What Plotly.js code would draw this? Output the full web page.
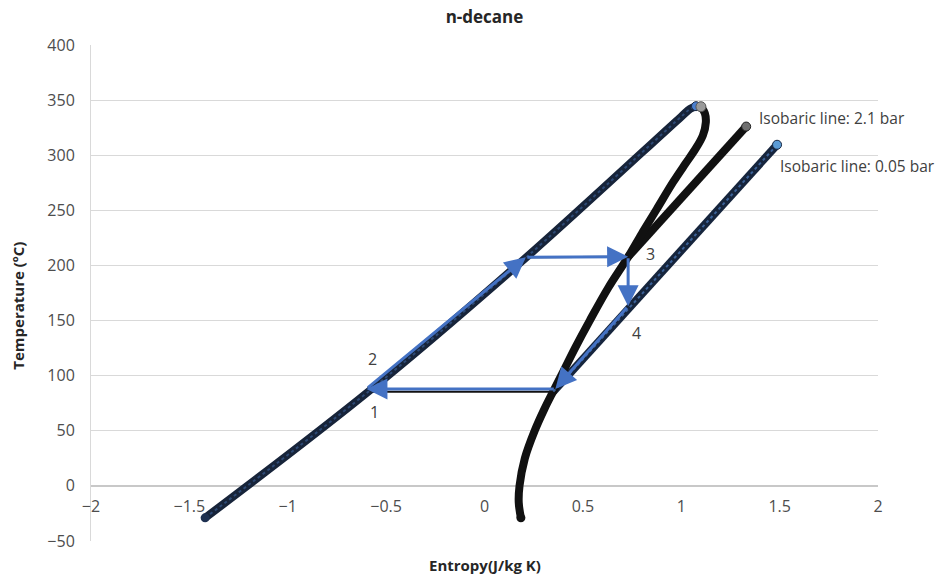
<!DOCTYPE html>
<html>
<head>
<meta charset="utf-8">
<script src="https://cdn.plot.ly/plotly-3.0.1.min.js"></script>
<style>html,body{margin:0;padding:0;background:#fff;}#chart{width:943px;height:578px;}</style>
</head>
<body>
<div id="chart"></div>
<script>
// Saturated liquid line (entropy, temperature)
var liqS = [-1.42, -0.58, 0.21, 1.0, 1.045, 1.075];
var liqT = [-29, 87, 207, 335, 342, 344.5];
// Saturated vapour line
var vapS = [1.10, 1.12, 1.125, 1.11, 1.07, 1.02, 0.96, 0.875, 0.80, 0.731, 0.63, 0.535, 0.46, 0.39, 0.35, 0.305, 0.255, 0.205, 0.178, 0.174, 0.185];
var vapT = [344, 338, 330, 318, 305, 292, 276, 251, 229, 208, 180, 150, 125, 100, 86, 70, 50, 25, 0, -15, -29];
// Isobar 2.1 bar
var iso21S = [0.214, 0.731, 1.03, 1.33];
var iso21T = [207.5, 208, 267, 326];
// Isobar 0.05 bar
var iso005S = [-0.58, 0.35, 0.92, 1.487];
var iso005T = [85.5, 85.5, 198, 309.5];
// Cycle states 1..4 and the vapour-line point on the 0.05 bar isobar
var cycleS = [-0.60, 0.21, 0.73, 0.73, 0.36];
var cycleT = [88, 207.5, 208, 163, 88];
var stateLabels = ['1', '2', '3', '4'];
var labelS = [-0.56, -0.57, 0.846, 0.77];
var labelT = [67, 115, 210.5, 139];
var isoNames = ['Isobaric line: 2.1 bar', 'Isobaric line: 0.05 bar'];
var isoLabelS = [1.385, 1.492];
var isoLabelT = [334, 290];

var FONT = 'Open Sans, Noto Sans, Liberation Sans, sans-serif';
var BLUE = '#4472C4';

function last(a){ return a[a.length-1]; }

var traces = [];
// horizontal dome parts (thin)
traces.push({x: iso005S.slice(0,2), y: iso005T.slice(0,2), mode:'lines', line:{color:'#111', width:2}, hoverinfo:'skip'});
traces.push({x: iso21S.slice(0,2), y: iso21T.slice(0,2), mode:'lines', line:{color:'#111', width:2}, hoverinfo:'skip'});
// thick lines
traces.push({x: iso005S.slice(1), y: iso005T.slice(1), mode:'lines', line:{color:'#16253d', width:8}, hoverinfo:'skip'});
traces.push({x: iso21S.slice(1), y: iso21T.slice(1), mode:'lines', line:{color:'#111', width:8}, hoverinfo:'skip'});
traces.push({x: vapS, y: vapT, mode:'lines', line:{color:'#111', width:8, shape:'spline', smoothing:1}, hoverinfo:'skip'});
traces.push({x: liqS, y: liqT, mode:'lines', line:{color:'#17243a', width:8, shape:'spline', smoothing:1}, hoverinfo:'skip'});
// texture overlays
traces.push({x: iso005S.slice(1), y: iso005T.slice(1), mode:'lines', line:{color:'#3c6298', width:2, dash:'dot'}, hoverinfo:'skip'});
traces.push({x: liqS, y: liqT, mode:'lines', line:{color:'#2e4a75', width:2, dash:'dot', shape:'spline', smoothing:1}, hoverinfo:'skip'});
// end markers
traces.push({x:[liqS[0], last(vapS)], y:[liqT[0], last(vapT)], mode:'markers', marker:{size:9, color:['#1d3050','#111'], line:{width:0}}, hoverinfo:'skip'});
traces.push({x:[last(liqS)], y:[last(liqT)], mode:'markers', marker:{size:9, color:'#4a7fd0', line:{color:'#1a2a45', width:1}}, hoverinfo:'skip'});
traces.push({x:[vapS[0]], y:[vapT[0]], mode:'markers', marker:{size:10, color:'#9a9a9a', line:{color:'#555', width:1}}, hoverinfo:'skip'});
traces.push({x:[last(iso21S)], y:[last(iso21T)], mode:'markers', marker:{size:9, color:'#6f6f6f', line:{color:'#222', width:1}}, hoverinfo:'skip'});
traces.push({x:[last(iso005S)], y:[last(iso005T)], mode:'markers', marker:{size:9, color:'#5b9bd5', line:{color:'#1a2a45', width:1}}, hoverinfo:'skip'});

var ann = [];
for (var i = 0; i < cycleS.length; i++) {
  var j = (i + 1) % cycleS.length;
  ann.push({x: cycleS[j], y: cycleT[j], ax: cycleS[i], ay: cycleT[i], xref:'x', yref:'y', axref:'x', ayref:'y',
    text:'', showarrow:true, arrowhead:2, arrowsize:1.4, arrowwidth:3, arrowcolor:BLUE, standoff:0, startstandoff:0});
}
for (var k = 0; k < stateLabels.length; k++) {
  ann.push({x: labelS[k], y: labelT[k], xref:'x', yref:'y', text: stateLabels[k], showarrow:false,
    font:{family:FONT, size:16, color:'#404040'}});
}
for (var m = 0; m < isoNames.length; m++) {
  ann.push({x: isoLabelS[m], y: isoLabelT[m], xref:'x', yref:'y', text: isoNames[m], showarrow:false, xanchor:'left',
    font:{family:FONT, size:15.5, color:'#404040'}});
}
// axis titles
ann.push({x:0.5, y:-0.048, xref:'paper', yref:'paper', yanchor:'middle', text:'<b>Entropy(J/kg K)</b>', showarrow:false,
  font:{family:FONT, size:15, color:'#262626'}});
ann.push({x:-0.093, y:0.474, xref:'paper', yref:'paper', xanchor:'center', yanchor:'middle', textangle:-90, text:'<b>Temperature (ºC)</b>', showarrow:false,
  font:{family:FONT, size:15, color:'#262626'}});

var layout = {
  width: 943, height: 578,
  margin: {l: 91, r: 65, t: 45, b: 37},
  paper_bgcolor: '#fff', plot_bgcolor: '#fff',
  showlegend: false,
  title: {text: '<b>n-decane</b>', x: 0.5, xref: 'paper', y: 1 - 17/578, yanchor: 'middle', font: {family: FONT, size: 17, color: '#262626'}},
  xaxis: {range: [-2, 2], dtick: 0.5, tick0: 0, showgrid: false, zeroline: false, showline: false,
    anchor: 'free', position: 50/450, ticks: '', ticklabelstandoff: 9,
    tickfont: {family: FONT, size: 16, color: '#4d4d4d'}},
  yaxis: {range: [-50, 400], dtick: 50, tick0: 0, showgrid: true, gridcolor: '#d9d9d9', gridwidth: 1,
    zeroline: true, zerolinecolor: '#c8c8c8', zerolinewidth: 2,
    showline: true, linecolor: '#d9d9d9', linewidth: 1, ticks: '', ticklabelstandoff: 12,
    tickfont: {family: FONT, size: 16, color: '#4d4d4d'}},
  annotations: ann
};

Plotly.newPlot('chart', traces, layout, {displayModeBar: false, staticPlot: true});
</script>
</body>
</html>
